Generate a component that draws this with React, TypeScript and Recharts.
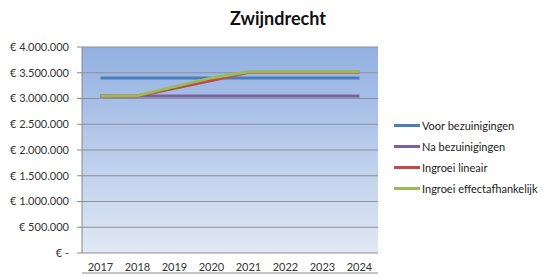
import React from 'react';
import { LineChart, Line, XAxis, YAxis, CartesianGrid } from 'recharts';

const years = ['2017', '2018', '2019', '2020', '2021', '2022', '2023', '2024'];
const voorBezuinigingen = [3400000, 3400000, 3400000, 3400000, 3400000, 3400000, 3400000, 3400000];
const naBezuinigingen = [3050000, 3050000, 3050000, 3050000, 3050000, 3050000, 3050000, 3050000];
const ingroeiLineair = [3050000, 3050000, 3200000, 3350000, 3510000, 3510000, 3510000, 3510000];
const ingroeiEffect = [3050000, 3060000, 3230000, 3400000, 3520000, 3520000, 3520000, 3520000];
const yTicks = [0, 500000, 1000000, 1500000, 2000000, 2500000, 3000000, 3500000, 4000000];

const series = [
  { key: 'voor', name: 'Voor bezuinigingen', color: '#4a7ebb' },
  { key: 'na', name: 'Na bezuinigingen', color: '#7d60a0' },
  { key: 'lin', name: 'Ingroei lineair', color: '#be4b48' },
  { key: 'eff', name: 'Ingroei effectafhankelijk', color: '#9bbb59' },
];

const data = years.map((y, i) => ({
  x: i + 0.5,
  year: y,
  voor: voorBezuinigingen[i],
  na: naBezuinigingen[i],
  lin: ingroeiLineair[i],
  eff: ingroeiEffect[i],
}));

const fmt = (v: number) => {
  if (v === 0) return '€ -';
  return '€ ' + v.toString().replace(/\B(?=(\d{3})+(?!\d))/g, '.');
};

const FONT = 'Lato, "Open Sans", sans-serif';

export default function App() {
  return (
    <div style={{ position: 'absolute', left: 0, top: 0, width: 544, height: 277, background: '#fff' }}>
      <div
        style={{
          position: 'absolute',
          left: 0,
          top: 7,
          width: 556,
          textAlign: 'center',
          fontFamily: FONT,
          fontWeight: 'bold',
          fontSize: 18,
          color: '#111',
        }}
      >
        Zwijndrecht
      </div>
      <div style={{ position: 'absolute', left: 394, top: 115, fontFamily: FONT, fontSize: 11, color: '#222' }}>
        {series.map((s) => (
          <div key={s.key} style={{ display: 'flex', alignItems: 'center', height: 21, whiteSpace: 'nowrap' }}>
            <div style={{ width: 26, height: 3, background: s.color, marginRight: 2 }} />
            <span>{s.name}</span>
          </div>
        ))}
      </div>
      <LineChart width={544} height={277} data={data} margin={{ top: 47, right: 166, bottom: 0, left: 0 }}>
        <defs>
          <linearGradient id="bgGrad" x1="0" y1="0" x2="0" y2="1">
            <stop offset="0%" stopColor="#92b0e2" />
            <stop offset="100%" stopColor="#e0e8f4" />
          </linearGradient>
        </defs>
        <CartesianGrid vertical={false} stroke="#8a8f99" fill="url(#bgGrad)" fillOpacity={1} />
        <XAxis
          xAxisId="t"
          type="number"
          dataKey="x"
          domain={[0, 8]}
          ticks={[0, 1, 2, 3, 4, 5, 6, 7, 8]}
          tick={false}
          tickSize={4}
          height={4}
          stroke="#8a8a8a"
          interval={0}
        />
        <XAxis
          xAxisId="l"
          type="number"
          dataKey="x"
          domain={[0, 8]}
          ticks={[0.5, 1.5, 2.5, 3.5, 4.5, 5.5, 6.5, 7.5]}
          tickFormatter={(v: number) => years[Math.floor(v)]}
          axisLine={false}
          tickLine={false}
          height={20}
          tickMargin={4}
          interval={0}
          tick={{ fontFamily: FONT, fontSize: 11, fill: '#333' }}
        />
        <YAxis
          domain={[0, 4000000]}
          ticks={yTicks}
          tickFormatter={fmt}
          width={82}
          tickSize={5}
          tickMargin={8}
          stroke="#8a8a8a"
          tick={{ fontFamily: FONT, fontSize: 11, fill: '#333' }}
          interval={0}
        />
        {series.map((s) => (
          <Line
            key={s.key}
            xAxisId="t"
            dataKey={s.key}
            name={s.name}
            stroke={s.color}
            strokeWidth={3}
            dot={false}
            isAnimationActive={false}
            type="linear"
          />
        ))}
      </LineChart>
    </div>
  );
}
